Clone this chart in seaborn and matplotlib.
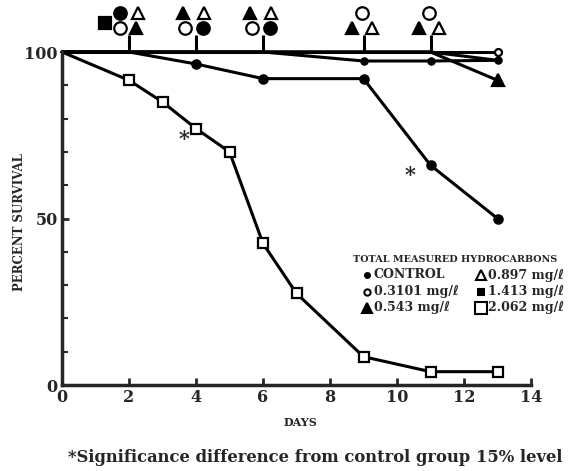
import matplotlib
matplotlib.use("Agg")
import matplotlib.pyplot as plt
import seaborn as sns

# survival data (percent, by day)
days = [0, 2, 4, 6, 9, 11, 13]
control = [100, 100, 100, 100, 100, 100, 97.5]
conc_03101 = [100, 100, 100, 100, 100, 100, 100]
conc_0543 = [100, 100, 100, 100, 100, 100, 91.5]
conc_0897 = [100, 100, 100, 100, 97.3, 97.3, 97.5]
conc_1413 = [100, 100, 96.4, 92, 92, 66, 50]
days_2062 = [0, 2, 3, 4, 5, 6, 7, 9, 11, 13]
conc_2062 = [100, 91.5, 85, 77, 70, 42.5, 27.5, 8.5, 4, 4]

legend_labels = ["CONTROL", "0.3101 mg/\u2113", "0.543 mg/\u2113",
                 "0.897 mg/\u2113", "1.413 mg/\u2113", "2.062 mg/\u2113"]
legend_markers = ["o", "o", "^", "^", "s", "s"]
legend_fills = ["black", "white", "black", "white", "black", "white"]
legend_sizes = [3.5, 4.5, 6.5, 6.5, 4, 8]

# significant points (asterisks)
star_days = [3.64, 10.4]
star_vals = [74, 63]

# events marked above the plot
event_days = [2, 4, 6, 9, 11]

sns.set_style("ticks")
plt.rcParams["font.family"] = ["DejaVu Serif", "DejaVu Sans"]
plt.rcParams["font.weight"] = "bold"

W, H = 574, 471
fig = plt.figure(figsize=(W / 100, H / 100), dpi=100)
ax = fig.add_axes([62 / W, 1 - 385 / H, 469 / W, 333 / H])

line_kw = dict(ax=ax, color="black", lw=2.2, mec="black", mew=1.6, clip_on=False)
sns.lineplot(x=days, y=control, marker="o", ms=3.5, mfc="black", markevery=[6], **line_kw)
sns.lineplot(x=days, y=conc_03101, marker="o", ms=5, mfc="white", markevery=[6], **line_kw)
sns.lineplot(x=days, y=conc_0543, marker="^", ms=8, mfc="black", markevery=[6], **line_kw)
sns.lineplot(x=days, y=conc_0897, marker="o", ms=4.5, mfc="black", markevery=[4, 5, 6], **line_kw)
sns.lineplot(x=days, y=conc_1413, marker="o", ms=6, mfc="black", markevery=[2, 3, 4, 5, 6], **line_kw)
sns.lineplot(x=days_2062, y=conc_2062, marker="s", ms=7.5, mfc="white",
             markevery=list(range(1, 10)), **line_kw)

for d, v in zip(star_days, star_vals):
    ax.text(d, v, "*", fontsize=15, ha="center", va="center")

# event markers above the 100% line
ax.vlines(event_days, 100, 105, color="black", lw=2.2, clip_on=False)
mk = dict(color="black", mec="black", mew=1.6, ms=9, ls="none", clip_on=False)
top, low = 111.7, 107.2
ax.plot([1.28], [108.7], marker="s", mfc="black", **mk)
ax.plot([1.73], [top], marker="o", mfc="black", **mk)
ax.plot([1.73], [low], marker="o", mfc="white", **mk)
ax.plot([2.27], [top], marker="^", mfc="white", **mk)
ax.plot([2.22], [low], marker="^", mfc="black", **mk)
for d in event_days[1:3]:
    ax.plot([d - 0.38], [top], marker="^", mfc="black", **mk)
    ax.plot([d + 0.25], [top], marker="^", mfc="white", **mk)
    ax.plot([d - 0.33], [low], marker="o", mfc="white", **mk)
    ax.plot([d + 0.22], [low], marker="o", mfc="black", **mk)
for d in event_days[3:]:
    ax.plot([d - 0.05], [top], marker="o", mfc="white", **mk)
    ax.plot([d - 0.35], [low], marker="^", mfc="black", **mk)
    ax.plot([d + 0.25], [low], marker="^", mfc="white", **mk)

# legend, drawn by hand in pixel positions of the scan
fig.text(353 / W, 1 - 259 / H, "TOTAL MEASURED HYDROCARBONS", ha="left",
         va="center", fontsize=6.9, fontweight="bold")
for i, lab in enumerate(legend_labels):
    row, col = i % 3, i // 3
    xm = 367 + col * 114
    ym = 1 - (275 + row * 16.5) / H
    fig.lines.append(plt.Line2D([xm / W], [ym], marker=legend_markers[i],
                                ms=legend_sizes[i], mfc=legend_fills[i], mec="black",
                                mew=1.5, ls="none", transform=fig.transFigure))
    fig.text((xm + 7) / W, ym, lab, ha="left", va="center", fontsize=9,
             fontweight="bold")

ax.set_xlim(0, 14)
ax.set_ylim(0, 100)
ax.set_xticks(range(0, 15, 2))
ax.set_yticks([0, 50, 100])
ax.set_yticks(range(10, 100, 10), minor=True)
ax.tick_params(axis="both", which="major", direction="in", length=5, width=2,
               labelsize=11.5, pad=3)
ax.tick_params(axis="y", which="minor", direction="in", length=4, width=1.5)
for lab in ax.get_xticklabels() + ax.get_yticklabels():
    lab.set_fontweight("bold")
ax.set_xlabel("")
ax.set_ylabel("")
sns.despine(ax=ax)
for s in ["left", "bottom"]:
    ax.spines[s].set_linewidth(2.5)

fig.text(20 / W, 1 - 222 / H, "PERCENT SURVIVAL", rotation=90,
         ha="center", va="center", fontsize=8.5, fontweight="bold")
fig.text(300 / W, 1 - 423 / H, "DAYS", ha="center", va="center",
         fontsize=8, fontweight="bold")
fig.text(68 / W, 1 - 457 / H,
         "*Significance difference from control group 15% level",
         ha="left", va="center", fontsize=11.8, fontweight="bold")

fig.savefig("out.png", dpi=100)
